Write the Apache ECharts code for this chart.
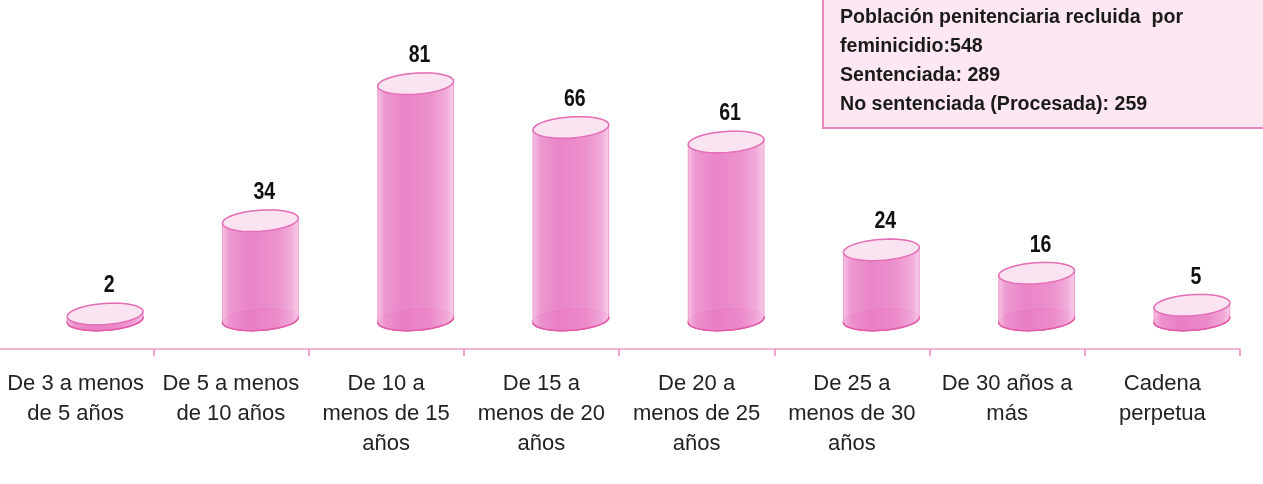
<!DOCTYPE html>
<html>
<head>
<meta charset="utf-8">
<script src="https://cdn.jsdelivr.net/npm/echarts@6/dist/echarts.min.js"></script>
<style>
  html, body { margin: 0; padding: 0; background: #fff; }
  #main { width: 1263px; height: 484px; }
</style>
</head>
<body>
<div id="main"></div>
<script>
  // categories (tiempo de condena) and values
  var categories = [
    'De 3 a menos\nde 5 años',
    'De 5 a menos\nde 10 años',
    'De 10 a\nmenos de 15\naños',
    'De 15 a\nmenos de 20\naños',
    'De 20 a\nmenos de 25\naños',
    'De 25 a\nmenos de 30\naños',
    'De 30 años a\nmás',
    'Cadena\nperpetua'
  ];
  var values = [2, 34, 81, 66, 61, 24, 16, 5];
  var noteLines = [
    'Población penitenciaria recluida  por',
    'feminicidio:548',
    'Sentenciada: 289',
    'No sentenciada (Procesada): 259'
  ];

  var FONT = '"Liberation Sans", Arial, sans-serif';

  // points on a tilted ellipse
  function ellipsePts(cx, cy, rx, ry, a, t0, t1, n) {
    var pts = [];
    for (var k = 0; k <= n; k++) {
      var t = t0 + (t1 - t0) * k / n;
      var ex = rx * Math.cos(t), ey = ry * Math.sin(t);
      pts.push([cx + ex * Math.cos(a) - ey * Math.sin(a), cy + ex * Math.sin(a) + ey * Math.cos(a)]);
    }
    return pts;
  }

  function renderCylinder(params, api) {
    var idx = api.value(0), val = api.value(1);
    var top = api.coord([idx, val]);
    var base = api.coord([idx, 0]);
    var band = api.size([1, 0])[0];
    var cx = top[0] + band * 0.19;
    var rx = 38, ry = 10.5, tilt = -0.07;

    var bottomFull = ellipsePts(cx, base[1], rx, ry, tilt, 0, Math.PI * 2, 48);
    var bottomFront = ellipsePts(cx, base[1], rx, ry, tilt, 0, Math.PI, 24);
    var topBack = ellipsePts(cx, top[1], rx, ry, tilt, Math.PI, Math.PI * 2, 24);
    var topFull = ellipsePts(cx, top[1], rx, ry, tilt, 0, Math.PI * 2, 48);

    var bodyGrad = new echarts.graphic.LinearGradient(0, 0, 1, 0, [
      { offset: 0, color: '#f5bfe1' },
      { offset: 0.1, color: '#ec90cd' },
      { offset: 0.35, color: '#e87ac3' },
      { offset: 0.7, color: '#eb88c9' },
      { offset: 0.9, color: '#f0a6d8' },
      { offset: 1, color: '#f7cce8' }
    ]);

    return {
      type: 'group',
      children: [
        {
          type: 'polygon',
          shape: { points: bottomFull },
          style: { fill: '#f3a9d8', stroke: '#e468b2', lineWidth: 1.5 }
        },
        {
          type: 'polygon',
          shape: { points: bottomFront.concat(topBack) },
          style: { fill: bodyGrad, stroke: 'rgba(232,120,185,0.7)', lineWidth: 1, opacity: 0.92 }
        },
        {
          type: 'polyline',
          shape: { points: bottomFront },
          style: { fill: null, stroke: '#e35aa8', lineWidth: 1.5 }
        },
        {
          type: 'polygon',
          shape: { points: topFull },
          style: { fill: '#fbe4f2', stroke: '#e46fb6', lineWidth: 1.5 }
        },
        {
          type: 'text',
          x: cx + 4,
          y: top[1] - 28,
          scaleX: 0.85,
          style: {
            text: String(val),
            fill: '#111',
            font: 'bold 23px ' + FONT,
            align: 'center',
            verticalAlign: 'middle'
          }
        }
      ]
    };
  }

  var chart = echarts.init(document.getElementById('main'), null, { renderer: 'canvas' });

  chart.setOption({
    animation: false,
    backgroundColor: '#ffffff',
    grid: {
      left: -2,
      right: 23,
      top: 5,
      bottom: 135,
      containLabel: false,
      outerBoundsMode: 'none'
    },
    xAxis: {
      type: 'category',
      data: categories,
      boundaryGap: true,
      axisLine: { onZero: false, lineStyle: { color: '#f09fcd', width: 1.5 } },
      axisTick: { show: true, length: 7, lineStyle: { color: '#ec8cc4', width: 1.5 } },
      axisLabel: {
        interval: 0,
        color: '#222',
        fontFamily: FONT,
        fontSize: 22,
        lineHeight: 30,
        margin: 20
      }
    },
    yAxis: {
      type: 'value',
      min: -10,
      max: 108,
      show: false
    },
    series: [{
      type: 'custom',
      renderItem: renderCylinder,
      encode: { x: 0, y: 1 },
      data: values.map(function(v, i) { return [i, v]; }),
      clip: false
    }],
    graphic: [
      {
        type: 'rect',
        shape: { x: 823, y: -10, width: 470, height: 138 },
        style: { fill: '#fde7f2', stroke: '#e785bd', lineWidth: 2 }
      },
      {
        type: 'text',
        x: 840,
        y: 3,
        scaleX: 0.98,
        style: {
          text: noteLines.join('\n'),
          fill: '#1a1a1a',
          font: 'bold 20px ' + FONT,
          lineHeight: 29
        }
      }
    ]
  });
</script>
</body>
</html>
